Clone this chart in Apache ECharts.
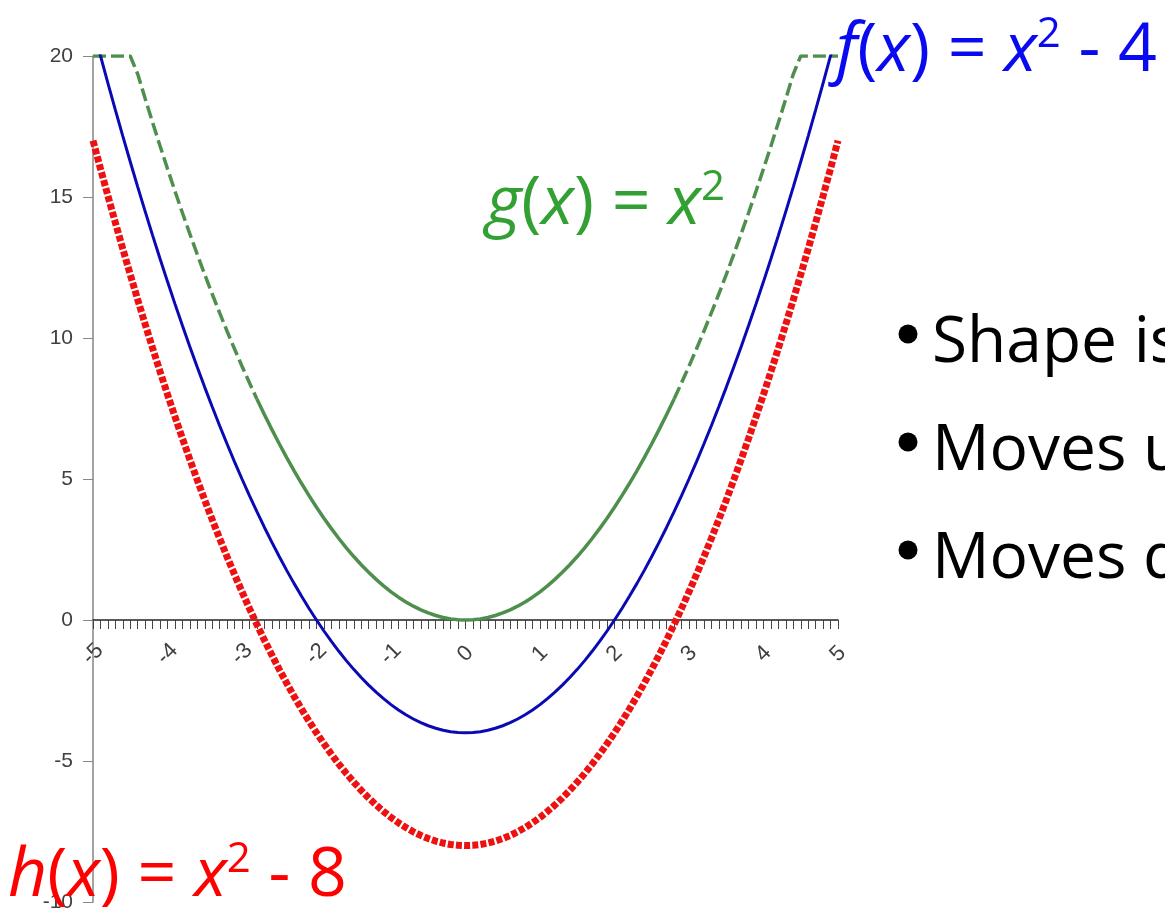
<!DOCTYPE html>
<html>
<head>
<meta charset="utf-8">
<title>Vertical shifts of x²</title>
<script src="https://cdn.jsdelivr.net/npm/echarts@6/dist/echarts.min.js"></script>
<style>
  html, body { margin: 0; padding: 0; background: #fff; }
  #chart { width: 1165px; height: 917px; }
</style>
</head>
<body>
<div id="chart"></div>
<script>
// x categories, step 0.1
const xValues = [
  '-5', '-4.9', '-4.8', '-4.7', '-4.6', '-4.5', '-4.4', '-4.3', '-4.2', '-4.1',
  '-4', '-3.9', '-3.8', '-3.7', '-3.6', '-3.5', '-3.4', '-3.3', '-3.2', '-3.1',
  '-3', '-2.9', '-2.8', '-2.7', '-2.6', '-2.5', '-2.4', '-2.3', '-2.2', '-2.1',
  '-2', '-1.9', '-1.8', '-1.7', '-1.6', '-1.5', '-1.4', '-1.3', '-1.2', '-1.1',
  '-1', '-0.9', '-0.8', '-0.7', '-0.6', '-0.5', '-0.4', '-0.3', '-0.2', '-0.1',
  '0', '0.1', '0.2', '0.3', '0.4', '0.5', '0.6', '0.7', '0.8', '0.9',
  '1', '1.1', '1.2', '1.3', '1.4', '1.5', '1.6', '1.7', '1.8', '1.9',
  '2', '2.1', '2.2', '2.3', '2.4', '2.5', '2.6', '2.7', '2.8', '2.9',
  '3', '3.1', '3.2', '3.3', '3.4', '3.5', '3.6', '3.7', '3.8', '3.9',
  '4', '4.1', '4.2', '4.3', '4.4', '4.5', '4.6', '4.7', '4.8', '4.9',
  '5'
]

// g(x) = x^2 (flat at the top of the plot, 20)
const gValues = [
  20, 20, 20, 20, 20, 20, 19.36, 18.49, 17.64, 16.81,
  16, 15.21, 14.44, 13.69, 12.96, 12.25, 11.56, 10.89, 10.24, 9.61,
  9, 8.41, 7.84, 7.29, 6.76, 6.25, 5.76, 5.29, 4.84, 4.41,
  4, 3.61, 3.24, 2.89, 2.56, 2.25, 1.96, 1.69, 1.44, 1.21,
  1, 0.81, 0.64, 0.49, 0.36, 0.25, 0.16, 0.09, 0.04, 0.01,
  0, 0.01, 0.04, 0.09, 0.16, 0.25, 0.36, 0.49, 0.64, 0.81,
  1, 1.21, 1.44, 1.69, 1.96, 2.25, 2.56, 2.89, 3.24, 3.61,
  4, 4.41, 4.84, 5.29, 5.76, 6.25, 6.76, 7.29, 7.84, 8.41,
  9, 9.61, 10.24, 10.89, 11.56, 12.25, 12.96, 13.69, 14.44, 15.21,
  16, 16.81, 17.64, 18.49, 19.36, 20, 20, 20, 20, 20,
  20
]

// f(x) = x^2 - 4
const fValues = [
  21, 20.01, 19.04, 18.09, 17.16, 16.25, 15.36, 14.49, 13.64, 12.81,
  12, 11.21, 10.44, 9.69, 8.96, 8.25, 7.56, 6.89, 6.24, 5.61,
  5, 4.41, 3.84, 3.29, 2.76, 2.25, 1.76, 1.29, 0.84, 0.41,
  0, -0.39, -0.76, -1.11, -1.44, -1.75, -2.04, -2.31, -2.56, -2.79,
  -3, -3.19, -3.36, -3.51, -3.64, -3.75, -3.84, -3.91, -3.96, -3.99,
  -4, -3.99, -3.96, -3.91, -3.84, -3.75, -3.64, -3.51, -3.36, -3.19,
  -3, -2.79, -2.56, -2.31, -2.04, -1.75, -1.44, -1.11, -0.76, -0.39,
  0, 0.41, 0.84, 1.29, 1.76, 2.25, 2.76, 3.29, 3.84, 4.41,
  5, 5.61, 6.24, 6.89, 7.56, 8.25, 8.96, 9.69, 10.44, 11.21,
  12, 12.81, 13.64, 14.49, 15.36, 16.25, 17.16, 18.09, 19.04, 20.01,
  21
]

// h(x) = x^2 - 8
const hValues = [
  17, 16.01, 15.04, 14.09, 13.16, 12.25, 11.36, 10.49, 9.64, 8.81,
  8, 7.21, 6.44, 5.69, 4.96, 4.25, 3.56, 2.89, 2.24, 1.61,
  1, 0.41, -0.16, -0.71, -1.24, -1.75, -2.24, -2.71, -3.16, -3.59,
  -4, -4.39, -4.76, -5.11, -5.44, -5.75, -6.04, -6.31, -6.56, -6.79,
  -7, -7.19, -7.36, -7.51, -7.64, -7.75, -7.84, -7.91, -7.96, -7.99,
  -8, -7.99, -7.96, -7.91, -7.84, -7.75, -7.64, -7.51, -7.36, -7.19,
  -7, -6.79, -6.56, -6.31, -6.04, -5.75, -5.44, -5.11, -4.76, -4.39,
  -4, -3.59, -3.16, -2.71, -2.24, -1.75, -1.24, -0.71, -0.16, 0.41,
  1, 1.61, 2.24, 2.89, 3.56, 4.25, 4.96, 5.69, 6.44, 7.21,
  8, 8.81, 9.64, 10.49, 11.36, 12.25, 13.16, 14.09, 15.04, 16.01,
  17
]

const bullets = ['Shape is', 'Moves u', 'Moves d']

// the green line looks solid near the bottom (short segments), dashed on the arms
const gDashed = gValues.map((v, i) => Math.abs(Number(xValues[i])) >= 2.8 ? v : null)
const gSolid = gValues.map((v, i) => Math.abs(Number(xValues[i])) <= 2.8 ? v : null)

const myChart = echarts.init(document.getElementById('chart'))

const eqFont = '"Open Sans", "Noto Sans", sans-serif'
function eqRich(color) {
    return {
        i: { fontStyle: 'italic', fontSize: 68, fontFamily: eqFont, fill: color, lineHeight: 76 },
        n: { fontSize: 68, fontFamily: eqFont, fill: color, lineHeight: 76 },
        s: { fontSize: 42, fontFamily: eqFont, fill: color, verticalAlign: 'top', lineHeight: 76 }
    }
}

// plot: 0 line sits 10 units (of 30) above the bottom edge
const gridTop = 56
const gridHeight = 846

const option = {
    animation: false,
    backgroundColor: '#fff',
    grid: { left: 93, top: gridTop, width: 745, height: gridHeight, outerBoundsMode: 'none' },
    xAxis: {
        type: 'category',
        data: xValues,
        boundaryGap: false,
        offset: -gridHeight * 10 / 30,
        axisLine: { onZero: false, lineStyle: { color: '#222', width: 1.5 } },
        axisTick: { interval: 0, length: 9, lineStyle: { color: '#444' } },
        axisLabel: {
            interval: 9,
            rotate: 45,
            align: 'center',
            verticalAlign: 'middle',
            margin: 34,
            fontFamily: 'Liberation Sans',
            fontSize: 22,
            color: '#404040'
        },
        splitLine: { show: false }
    },
    yAxis: {
        type: 'value',
        min: -10,
        max: 20,
        interval: 5,
        axisLine: { show: true, onZero: false, lineStyle: { color: '#868686', width: 1.5 } },
        axisTick: { show: true, length: 10, lineStyle: { color: '#868686' } },
        axisLabel: { margin: 20, fontFamily: 'Liberation Sans', fontSize: 21, color: '#404040' },
        splitLine: { show: false }
    },
    series: [
        {
            name: 'h(x)',
            type: 'line',
            data: hValues,
            showSymbol: false,
            lineStyle: { color: '#ee1111', width: 7, type: [6, 2.2], cap: 'butt' },
            z: 2
        },
        {
            name: 'g(x)',
            type: 'line',
            data: gDashed,
            showSymbol: false,
            lineStyle: { color: '#4e8f4e', width: 3.5, type: [13, 5] },
            z: 3
        },
        {
            name: 'g(x) middle',
            type: 'line',
            data: gSolid,
            showSymbol: false,
            lineStyle: { color: '#4e8f4e', width: 3.5 },
            z: 3
        },
        {
            name: 'f(x)',
            type: 'line',
            data: fValues,
            showSymbol: false,
            lineStyle: { color: '#0a0ab4', width: 3 },
            z: 4
        }
    ],
    graphic: [
        {
            type: 'text', left: 836, top: 14, z: 100,
            style: {
                text: '{i|f}{n|(}{i|x}{n|) = }{i|x}{s|2}{n| - 4}',
                rich: eqRich('#0a0af0')
            }
        },
        {
            type: 'text', left: 486, top: 167, z: 100,
            style: {
                text: '{i|g}{n|(}{i|x}{n|) = }{i|x}{s|2}',
                rich: eqRich('#33a033')
            }
        },
        {
            type: 'text', left: 8, top: 839, z: 100,
            style: {
                text: '{i|h}{n|(}{i|x}{n|) = }{i|x}{s|2}{n| - 8}',
                rich: eqRich('#ff0000')
            }
        }
    ].concat(bullets.map((b, k) => ({
        type: 'text', left: 932, top: 312 + k * 108, z: 100,
        style: {
            text: b,
            fontFamily: eqFont,
            fontSize: 64,
            fill: '#000'
        }
    }))).concat(bullets.map((b, k) => ({
        type: 'circle', z: 100,
        shape: { cx: 908, cy: 334 + k * 108, r: 9.5 },
        style: { fill: '#000' }
    })))
}

myChart.setOption(option)
</script>
</body>
</html>
